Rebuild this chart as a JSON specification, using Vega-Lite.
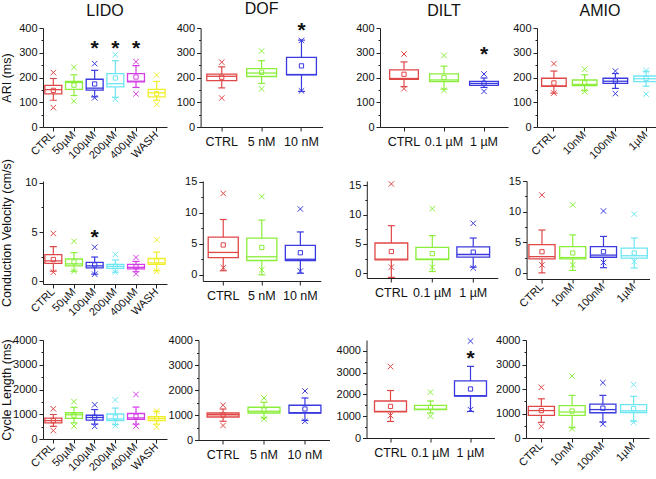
{
"$schema":"https://vega.github.io/schema/vega-lite/v6.json",
"padding":{"left":0,"top":1,"right":0,"bottom":0},
"background":"white",
"config":{
 "view":{"stroke":null},
 "font":"Liberation Sans",
 "axis":{"domainColor":"#222","tickColor":"#222","labelColor":"#111","titleColor":"#111","labelFont":"Liberation Sans","titleFont":"Liberation Sans","titleFontWeight":"normal","titleFontSize":12.5,"grid":false,"domainWidth":1,"tickWidth":1,"labelOverlap":false},
 "title":{"font":"Liberation Sans","fontSize":16,"fontWeight":"normal","color":"#111","anchor":"middle","offset":3}
},
"datasets":{"d":[
{"d":"LIDO","m":"ARI","cond":"CTRL","lo":108,"q1":134,"med":151,"q3":168,"hi":196,"mean":148,"mn":78,"mx":220,"star":null},
{"d":"LIDO","m":"ARI","cond":"50µM","lo":127,"q1":152,"med":180,"q3":184,"hi":211,"mean":169,"mn":104,"mx":241,"star":null},
{"d":"LIDO","m":"ARI","cond":"100µM","lo":122,"q1":149,"med":157,"q3":193,"hi":229,"mean":174,"mn":118,"mx":256,"star":334},
{"d":"LIDO","m":"ARI","cond":"200µM","lo":120,"q1":162,"med":175,"q3":216,"hi":268,"mean":198,"mn":112,"mx":292,"star":334},
{"d":"LIDO","m":"ARI","cond":"400µM","lo":160,"q1":182,"med":185,"q3":216,"hi":248,"mean":202,"mn":134,"mx":264,"star":334},
{"d":"LIDO","m":"ARI","cond":"WASH","lo":108,"q1":122,"med":138,"q3":152,"hi":184,"mean":135,"mn":92,"mx":210,"star":null},
{"d":"DOF","m":"ARI","cond":"CTRL","lo":158,"q1":187,"med":205,"q3":214,"hi":243,"mean":201,"mn":117,"mx":262,"star":null},
{"d":"DOF","m":"ARI","cond":"5 nM","lo":176,"q1":204,"med":218,"q3":236,"hi":268,"mean":221,"mn":154,"mx":307,"star":null},
{"d":"DOF","m":"ARI","cond":"10 nM","lo":144,"q1":211,"med":212,"q3":281,"hi":351,"mean":247,"mn":146,"mx":350,"star":408},
{"d":"DILT","m":"ARI","cond":"CTRL","lo":163,"q1":193,"med":196,"q3":231,"hi":263,"mean":213,"mn":155,"mx":295,"star":null},
{"d":"DILT","m":"ARI","cond":"0.1 µM","lo":153,"q1":183,"med":190,"q3":215,"hi":246,"mean":200,"mn":148,"mx":289,"star":null},
{"d":"DILT","m":"ARI","cond":"1 µM","lo":160,"q1":168,"med":176,"q3":184,"hi":198,"mean":177,"mn":144,"mx":214,"star":310},
{"d":"AMIO","m":"ARI","cond":"CTRL","lo":137,"q1":164,"med":166,"q3":197,"hi":226,"mean":178,"mn":137,"mx":256,"star":null},
{"d":"AMIO","m":"ARI","cond":"10nM","lo":147,"q1":167,"med":172,"q3":190,"hi":211,"mean":178,"mn":143,"mx":233,"star":null},
{"d":"AMIO","m":"ARI","cond":"100nM","lo":156,"q1":176,"med":185,"q3":197,"hi":216,"mean":186,"mn":135,"mx":226,"star":null},
{"d":"AMIO","m":"ARI","cond":"1µM","lo":165,"q1":183,"med":195,"q3":206,"hi":225,"mean":196,"mn":133,"mx":228,"star":null},
{"d":"LIDO","m":"CV","cond":"CTRL","lo":1.0,"q1":1.8,"med":2.05,"q3":2.7,"hi":3.5,"mean":2.2,"mn":0.9,"mx":4.85,"star":null},
{"d":"LIDO","m":"CV","cond":"50µM","lo":1.0,"q1":1.55,"med":1.75,"q3":2.25,"hi":2.9,"mean":1.95,"mn":1.0,"mx":4.05,"star":null},
{"d":"LIDO","m":"CV","cond":"100µM","lo":0.7,"q1":1.35,"med":1.55,"q3":1.9,"hi":2.45,"mean":1.65,"mn":0.7,"mx":3.45,"star":4.9},
{"d":"LIDO","m":"CV","cond":"200µM","lo":0.9,"q1":1.3,"med":1.5,"q3":1.7,"hi":2.15,"mean":1.5,"mn":0.9,"mx":2.7,"star":null},
{"d":"LIDO","m":"CV","cond":"400µM","lo":0.95,"q1":1.25,"med":1.4,"q3":1.7,"hi":2.0,"mean":1.45,"mn":0.75,"mx":2.4,"star":null},
{"d":"LIDO","m":"CV","cond":"WASH","lo":1.05,"q1":1.7,"med":1.85,"q3":2.3,"hi":2.95,"mean":2.05,"mn":1.0,"mx":4.2,"star":null},
{"d":"DOF","m":"CV","cond":"CTRL","lo":0.65,"q1":2.75,"med":3.6,"q3":6.05,"hi":8.9,"mean":4.8,"mn":1.15,"mx":13.1,"star":null},
{"d":"DOF","m":"CV","cond":"5 nM","lo":0,"q1":2.3,"med":2.9,"q3":5.9,"hi":8.8,"mean":4.4,"mn":0.8,"mx":12.6,"star":null},
{"d":"DOF","m":"CV","cond":"10 nM","lo":0.25,"q1":2.3,"med":2.5,"q3":4.75,"hi":6.9,"mean":3.55,"mn":0.6,"mx":10.6,"star":null},
{"d":"DILT","m":"CV","cond":"CTRL","lo":-0.7,"q1":2.3,"med":2.4,"q3":5.15,"hi":8.1,"mean":3.7,"mn":1.05,"mx":15.2,"star":null},
{"d":"DILT","m":"CV","cond":"0.1 µM","lo":0.3,"q1":2.35,"med":2.4,"q3":4.4,"hi":6.4,"mean":3.35,"mn":1.05,"mx":11.0,"star":null},
{"d":"DILT","m":"CV","cond":"1 µM","lo":1.05,"q1":2.75,"med":3.2,"q3":4.5,"hi":6.0,"mean":3.6,"mn":0.9,"mx":8.5,"star":null},
{"d":"AMIO","m":"CV","cond":"CTRL","lo":0,"q1":2.3,"med":2.65,"q3":4.6,"hi":7.0,"mean":3.45,"mn":1.3,"mx":12.7,"star":null},
{"d":"AMIO","m":"CV","cond":"10nM","lo":0.4,"q1":2.3,"med":2.5,"q3":4.3,"hi":6.2,"mean":3.25,"mn":1.3,"mx":11.1,"star":null},
{"d":"AMIO","m":"CV","cond":"100nM","lo":0.85,"q1":2.55,"med":2.9,"q3":4.3,"hi":5.95,"mean":3.45,"mn":1.7,"mx":10.1,"star":null},
{"d":"AMIO","m":"CV","cond":"1µM","lo":0.8,"q1":2.4,"med":2.8,"q3":4.05,"hi":5.7,"mean":3.25,"mn":1.85,"mx":9.6,"star":null},
{"d":"LIDO","m":"CL","cond":"CTRL","lo":510,"q1":650,"med":740,"q3":840,"hi":990,"mean":740,"mn":340,"mx":1220,"star":null},
{"d":"LIDO","m":"CL","cond":"50µM","lo":650,"q1":830,"med":980,"q3":1060,"hi":1280,"mean":960,"mn":520,"mx":1510,"star":null},
{"d":"LIDO","m":"CL","cond":"100µM","lo":600,"q1":760,"med":870,"q3":960,"hi":1190,"mean":880,"mn":510,"mx":1380,"star":null},
{"d":"LIDO","m":"CL","cond":"200µM","lo":580,"q1":740,"med":810,"q3":1010,"hi":1250,"mean":880,"mn":540,"mx":1580,"star":null},
{"d":"LIDO","m":"CL","cond":"400µM","lo":600,"q1":790,"med":850,"q3":1030,"hi":1290,"mean":920,"mn":520,"mx":1800,"star":null},
{"d":"LIDO","m":"CL","cond":"WASH","lo":600,"q1":740,"med":820,"q3":900,"hi":1120,"mean":820,"mn":480,"mx":1130,"star":null},
{"d":"DOF","m":"CL","cond":"CTRL","lo":750,"q1":920,"med":1010,"q3":1080,"hi":1240,"mean":1000,"mn":580,"mx":1390,"star":null},
{"d":"DOF","m":"CL","cond":"5 nM","lo":880,"q1":1080,"med":1150,"q3":1310,"hi":1510,"mean":1200,"mn":840,"mx":1680,"star":null},
{"d":"DOF","m":"CL","cond":"10 nM","lo":780,"q1":1080,"med":1090,"q3":1390,"hi":1680,"mean":1240,"mn":750,"mx":1960,"star":null},
{"d":"DILT","m":"CL","cond":"CTRL","lo":760,"q1":1200,"med":1220,"q3":1700,"hi":2180,"mean":1450,"mn":1030,"mx":3280,"star":null},
{"d":"DILT","m":"CL","cond":"0.1 µM","lo":1150,"q1":1300,"med":1330,"q3":1500,"hi":1700,"mean":1400,"mn":1000,"mx":2100,"star":null},
{"d":"DILT","m":"CL","cond":"1 µM","lo":1220,"q1":1920,"med":1940,"q3":2620,"hi":3290,"mean":2250,"mn":1300,"mx":4450,"star":3850},
{"d":"AMIO","m":"CL","cond":"CTRL","lo":640,"q1":920,"med":1120,"q3":1290,"hi":1600,"mean":1120,"mn":480,"mx":2070,"star":null},
{"d":"AMIO","m":"CL","cond":"10nM","lo":420,"q1":920,"med":1060,"q3":1320,"hi":1740,"mean":1100,"mn":380,"mx":2530,"star":null},
{"d":"AMIO","m":"CL","cond":"100nM","lo":650,"q1":1030,"med":1160,"q3":1380,"hi":1740,"mean":1220,"mn":570,"mx":2260,"star":null},
{"d":"AMIO","m":"CL","cond":"1µM","lo":680,"q1":1040,"med":1110,"q3":1360,"hi":1700,"mean":1200,"mn":640,"mx":2180,"star":null}
]},
"data":{"name":"d"},
"spacing":-3,
"vconcat":[
{"spacing":32,"hconcat":[
 {"spacing":8.6,"hconcat":[
  {"width":124,"height":99,"title":"LIDO",
   "transform":[{"filter":"datum.d==='LIDO' && datum.m==='ARI'"},{"fold":["lo","hi","q1","med","mean","mn","mx","star"],"as":["k","v"]}],
   "encoding":{
    "x":{"field":"cond","type":"nominal","title":null,"scale":{"domain":["CTRL","50µM","100µM","200µM","400µM","WASH"],"paddingInner":0,"paddingOuter":0},"axis":{"labelAngle":-45,"labelAlign":"right","labelBaseline":"middle","labelFontSize":11,"labelPadding":2,"tickSize":4}},
    "y":{"field":"v","type":"quantitative","title":"ARI (ms)","scale":{"domain":[0,400],"nice":false,"zero":false},"axis":{"values":[0,50,100,150,200,250,300,350,400],"labelExpr":"datum.value % 100 === 0 ? datum.label : ''","tickSize":{"condition":{"test":"datum.value % 100 === 0","value":4},"value":2},"labelFontSize":11,"labelPadding":2,"titlePadding":5}},
    "color":{"field":"cond","type":"nominal","legend":null,"scale":{"domain":["CTRL","50µM","100µM","200µM","400µM","WASH","5 nM","10 nM","0.1 µM","1 µM","10nM","100nM","1µM"],"range":["#e04848","#8aee3a","#3a3ae0","#6ee6f2","#d63ce6","#f0ee2a","#8aee3a","#3a3ae0","#8aee3a","#3a3ae0","#8aee3a","#3a3ae0","#6ee6f2"]}}
   },
   "layer":[
    {"transform":[{"filter":"datum.k==='lo'"}],"mark":{"type":"rule","strokeWidth":1.2},"encoding":{"y2":{"field":"q1"}}},
    {"transform":[{"filter":"datum.k==='hi'"}],"mark":{"type":"rule","strokeWidth":1.2},"encoding":{"y2":{"field":"q3"}}},
    {"transform":[{"filter":"datum.k==='q1'"}],"mark":{"type":"bar","filled":false,"strokeWidth":1.3,"width":{"band":0.82}},"encoding":{"y2":{"field":"q3"}}},
    {"transform":[{"filter":"datum.k==='med'"}],"mark":{"type":"tick","size":17,"thickness":1.3,"opacity":1}},
    {"transform":[{"filter":"datum.k==='lo' || datum.k==='hi'"}],"mark":{"type":"tick","size":7,"thickness":1.2,"opacity":1}},
    {"transform":[{"filter":"datum.k==='mean'"}],"mark":{"type":"point","shape":"square","size":18,"filled":false,"strokeWidth":1,"opacity":1}},
    {"transform":[{"filter":"(datum.k==='mn' || datum.k==='mx') && datum.v != null"}],"mark":{"type":"point","shape":"M-1,-1L1,1M-1,1L1,-1","size":30,"filled":false,"strokeWidth":1,"opacity":1}},
    {"transform":[{"filter":"datum.k==='star' && datum.v != null"}],"mark":{"type":"text","text":"*","fontSize":21,"fontWeight":"bold","baseline":"middle","dy":5},"encoding":{"color":{"value":"#111"}}}
   ]},
  {"width":122,"height":99,"title":"DOF",
   "transform":[{"filter":"datum.d==='DOF' && datum.m==='ARI'"},{"fold":["lo","hi","q1","med","mean","mn","mx","star"],"as":["k","v"]}],
   "encoding":{
    "x":{"field":"cond","type":"nominal","title":null,"scale":{"domain":["CTRL","5 nM","10 nM"],"paddingInner":0,"paddingOuter":0.03},"axis":{"labelAngle":0,"labelFontSize":12.5,"labelPadding":4,"tickSize":4}},
    "y":{"field":"v","type":"quantitative","title":null,"scale":{"domain":[0,400],"nice":false,"zero":false},"axis":{"values":[0,50,100,150,200,250,300,350,400],"labelExpr":"datum.value % 100 === 0 ? datum.label : ''","tickSize":{"condition":{"test":"datum.value % 100 === 0","value":4},"value":2},"labelFontSize":11,"labelPadding":2}},
    "color":{"field":"cond","type":"nominal","legend":null,"scale":{"domain":["CTRL","50µM","100µM","200µM","400µM","WASH","5 nM","10 nM","0.1 µM","1 µM","10nM","100nM","1µM"],"range":["#e04848","#8aee3a","#3a3ae0","#6ee6f2","#d63ce6","#f0ee2a","#8aee3a","#3a3ae0","#8aee3a","#3a3ae0","#8aee3a","#3a3ae0","#6ee6f2"]}}
   },
   "layer":[
    {"transform":[{"filter":"datum.k==='lo'"}],"mark":{"type":"rule","strokeWidth":1.2},"encoding":{"y2":{"field":"q1"}}},
    {"transform":[{"filter":"datum.k==='hi'"}],"mark":{"type":"rule","strokeWidth":1.2},"encoding":{"y2":{"field":"q3"}}},
    {"transform":[{"filter":"datum.k==='q1'"}],"mark":{"type":"bar","filled":false,"strokeWidth":1.3,"width":{"band":0.75}},"encoding":{"y2":{"field":"q3"}}},
    {"transform":[{"filter":"datum.k==='med'"}],"mark":{"type":"tick","size":30,"thickness":1.3,"opacity":1}},
    {"transform":[{"filter":"datum.k==='lo' || datum.k==='hi'"}],"mark":{"type":"tick","size":7,"thickness":1.2,"opacity":1}},
    {"transform":[{"filter":"datum.k==='mean'"}],"mark":{"type":"point","shape":"square","size":18,"filled":false,"strokeWidth":1,"opacity":1}},
    {"transform":[{"filter":"(datum.k==='mn' || datum.k==='mx') && datum.v != null"}],"mark":{"type":"point","shape":"M-1,-1L1,1M-1,1L1,-1","size":30,"filled":false,"strokeWidth":1,"opacity":1}},
    {"transform":[{"filter":"datum.k==='star' && datum.v != null"}],"mark":{"type":"text","text":"*","fontSize":21,"fontWeight":"bold","baseline":"middle","dy":5},"encoding":{"color":{"value":"#111"}}}
   ]}
 ]},
 {"spacing":4,"hconcat":[
  {"width":128,"height":99,"title":"DILT",
   "transform":[{"filter":"datum.d==='DILT' && datum.m==='ARI'"},{"fold":["lo","hi","q1","med","mean","mn","mx","star"],"as":["k","v"]}],
   "encoding":{
    "x":{"field":"cond","type":"nominal","title":null,"scale":{"domain":["CTRL","0.1 µM","1 µM"],"paddingInner":0,"paddingOuter":0.1},"axis":{"labelAngle":0,"labelFontSize":12.5,"labelPadding":4,"tickSize":4}},
    "y":{"field":"v","type":"quantitative","title":null,"scale":{"domain":[0,400],"nice":false,"zero":false},"axis":{"values":[0,50,100,150,200,250,300,350,400],"labelExpr":"datum.value % 100 === 0 ? datum.label : ''","tickSize":{"condition":{"test":"datum.value % 100 === 0","value":4},"value":2},"labelFontSize":11,"labelPadding":2}},
    "color":{"field":"cond","type":"nominal","legend":null,"scale":{"domain":["CTRL","50µM","100µM","200µM","400µM","WASH","5 nM","10 nM","0.1 µM","1 µM","10nM","100nM","1µM"],"range":["#e04848","#8aee3a","#3a3ae0","#6ee6f2","#d63ce6","#f0ee2a","#8aee3a","#3a3ae0","#8aee3a","#3a3ae0","#8aee3a","#3a3ae0","#6ee6f2"]}}
   },
   "layer":[
    {"transform":[{"filter":"datum.k==='lo'"}],"mark":{"type":"rule","strokeWidth":1.2},"encoding":{"y2":{"field":"q1"}}},
    {"transform":[{"filter":"datum.k==='hi'"}],"mark":{"type":"rule","strokeWidth":1.2},"encoding":{"y2":{"field":"q3"}}},
    {"transform":[{"filter":"datum.k==='q1'"}],"mark":{"type":"bar","filled":false,"strokeWidth":1.3,"width":{"band":0.72}},"encoding":{"y2":{"field":"q3"}}},
    {"transform":[{"filter":"datum.k==='med'"}],"mark":{"type":"tick","size":29.5,"thickness":1.3,"opacity":1}},
    {"transform":[{"filter":"datum.k==='lo' || datum.k==='hi'"}],"mark":{"type":"tick","size":7,"thickness":1.2,"opacity":1}},
    {"transform":[{"filter":"datum.k==='mean'"}],"mark":{"type":"point","shape":"square","size":18,"filled":false,"strokeWidth":1,"opacity":1}},
    {"transform":[{"filter":"(datum.k==='mn' || datum.k==='mx') && datum.v != null"}],"mark":{"type":"point","shape":"M-1,-1L1,1M-1,1L1,-1","size":30,"filled":false,"strokeWidth":1,"opacity":1}},
    {"transform":[{"filter":"datum.k==='star' && datum.v != null"}],"mark":{"type":"text","text":"*","fontSize":21,"fontWeight":"bold","baseline":"middle","dy":5},"encoding":{"color":{"value":"#111"}}}
   ]},
  {"width":126,"height":99,"title":"AMIO",
   "transform":[{"filter":"datum.d==='AMIO' && datum.m==='ARI'"},{"fold":["lo","hi","q1","med","mean","mn","mx","star"],"as":["k","v"]}],
   "encoding":{
    "x":{"field":"cond","type":"nominal","title":null,"scale":{"domain":["CTRL","10nM","100nM","1µM"],"paddingInner":0,"paddingOuter":0.05},"axis":{"labelAngle":-45,"labelAlign":"right","labelBaseline":"middle","labelFontSize":11,"labelPadding":2,"tickSize":4}},
    "y":{"field":"v","type":"quantitative","title":null,"scale":{"domain":[0,400],"nice":false,"zero":false},"axis":{"values":[0,50,100,150,200,250,300,350,400],"labelExpr":"datum.value % 100 === 0 ? datum.label : ''","tickSize":{"condition":{"test":"datum.value % 100 === 0","value":4},"value":2},"labelFontSize":11,"labelPadding":2}},
    "color":{"field":"cond","type":"nominal","legend":null,"scale":{"domain":["CTRL","50µM","100µM","200µM","400µM","WASH","5 nM","10 nM","0.1 µM","1 µM","10nM","100nM","1µM"],"range":["#e04848","#8aee3a","#3a3ae0","#6ee6f2","#d63ce6","#f0ee2a","#8aee3a","#3a3ae0","#8aee3a","#3a3ae0","#8aee3a","#3a3ae0","#6ee6f2"]}}
   },
   "layer":[
    {"transform":[{"filter":"datum.k==='lo'"}],"mark":{"type":"rule","strokeWidth":1.2},"encoding":{"y2":{"field":"q1"}}},
    {"transform":[{"filter":"datum.k==='hi'"}],"mark":{"type":"rule","strokeWidth":1.2},"encoding":{"y2":{"field":"q3"}}},
    {"transform":[{"filter":"datum.k==='q1'"}],"mark":{"type":"bar","filled":false,"strokeWidth":1.3,"width":{"band":0.8}},"encoding":{"y2":{"field":"q3"}}},
    {"transform":[{"filter":"datum.k==='med'"}],"mark":{"type":"tick","size":24.6,"thickness":1.3,"opacity":1}},
    {"transform":[{"filter":"datum.k==='lo' || datum.k==='hi'"}],"mark":{"type":"tick","size":7,"thickness":1.2,"opacity":1}},
    {"transform":[{"filter":"datum.k==='mean'"}],"mark":{"type":"point","shape":"square","size":18,"filled":false,"strokeWidth":1,"opacity":1}},
    {"transform":[{"filter":"(datum.k==='mn' || datum.k==='mx') && datum.v != null"}],"mark":{"type":"point","shape":"M-1,-1L1,1M-1,1L1,-1","size":30,"filled":false,"strokeWidth":1,"opacity":1}},
    {"transform":[{"filter":"datum.k==='star' && datum.v != null"}],"mark":{"type":"text","text":"*","fontSize":21,"fontWeight":"bold","baseline":"middle","dy":5},"encoding":{"color":{"value":"#111"}}}
   ]}
 ]}
]},
{"spacing":16,"vconcat":[
{"spacing":26.8,"hconcat":[
 {"spacing":16.8,"hconcat":[
  {"width":124,"height":103,
   "transform":[{"filter":"datum.d==='LIDO' && datum.m==='CV'"},{"fold":["lo","hi","q1","med","mean","mn","mx","star"],"as":["k","v"]}],
   "encoding":{
    "x":{"field":"cond","type":"nominal","title":null,"scale":{"domain":["CTRL","50µM","100µM","200µM","400µM","WASH"],"paddingInner":0,"paddingOuter":0},"axis":{"labelAngle":-45,"labelAlign":"right","labelBaseline":"middle","labelFontSize":11,"labelPadding":2,"tickSize":4}},
    "y":{"field":"v","type":"quantitative","title":"Conduction Velocity (cm/s)","scale":{"domain":[-0.3,10.2],"nice":false,"zero":false},"axis":{"values":[0,2.5,5,7.5,10],"labelExpr":"datum.value % 5 === 0 ? datum.label : ''","tickSize":{"condition":{"test":"datum.value % 5 === 0","value":4},"value":2},"labelFontSize":11,"labelPadding":2,"titlePadding":11}},
    "color":{"field":"cond","type":"nominal","legend":null,"scale":{"domain":["CTRL","50µM","100µM","200µM","400µM","WASH","5 nM","10 nM","0.1 µM","1 µM","10nM","100nM","1µM"],"range":["#e04848","#8aee3a","#3a3ae0","#6ee6f2","#d63ce6","#f0ee2a","#8aee3a","#3a3ae0","#8aee3a","#3a3ae0","#8aee3a","#3a3ae0","#6ee6f2"]}}
   },
   "layer":[
    {"transform":[{"filter":"datum.k==='lo'"}],"mark":{"type":"rule","strokeWidth":1.2},"encoding":{"y2":{"field":"q1"}}},
    {"transform":[{"filter":"datum.k==='hi'"}],"mark":{"type":"rule","strokeWidth":1.2},"encoding":{"y2":{"field":"q3"}}},
    {"transform":[{"filter":"datum.k==='q1'"}],"mark":{"type":"bar","filled":false,"strokeWidth":1.3,"width":{"band":0.82}},"encoding":{"y2":{"field":"q3"}}},
    {"transform":[{"filter":"datum.k==='med'"}],"mark":{"type":"tick","size":17,"thickness":1.3,"opacity":1}},
    {"transform":[{"filter":"datum.k==='lo' || datum.k==='hi'"}],"mark":{"type":"tick","size":7,"thickness":1.2,"opacity":1}},
    {"transform":[{"filter":"datum.k==='mean'"}],"mark":{"type":"point","shape":"square","size":18,"filled":false,"strokeWidth":1,"opacity":1}},
    {"transform":[{"filter":"(datum.k==='mn' || datum.k==='mx') && datum.v != null"}],"mark":{"type":"point","shape":"M-1,-1L1,1M-1,1L1,-1","size":30,"filled":false,"strokeWidth":1,"opacity":1}},
    {"transform":[{"filter":"datum.k==='star' && datum.v != null"}],"mark":{"type":"text","text":"*","fontSize":21,"fontWeight":"bold","baseline":"middle","dy":5},"encoding":{"color":{"value":"#111"}}}
   ]},
  {"width":118,"height":100,
   "transform":[{"filter":"datum.d==='DOF' && datum.m==='CV'"},{"fold":["lo","hi","q1","med","mean","mn","mx","star"],"as":["k","v"]}],
   "encoding":{
    "x":{"field":"cond","type":"nominal","title":null,"scale":{"domain":["CTRL","5 nM","10 nM"],"paddingInner":0,"paddingOuter":0.03},"axis":{"labelAngle":0,"labelFontSize":12.5,"labelPadding":4,"tickSize":4}},
    "y":{"field":"v","type":"quantitative","title":null,"scale":{"domain":[-1,15.1],"nice":false,"zero":false},"axis":{"values":[0,2.5,5,7.5,10,12.5,15],"labelExpr":"datum.value % 5 === 0 ? datum.label : ''","tickSize":{"condition":{"test":"datum.value % 5 === 0","value":4},"value":2},"labelFontSize":11,"labelPadding":2}},
    "color":{"field":"cond","type":"nominal","legend":null,"scale":{"domain":["CTRL","50µM","100µM","200µM","400µM","WASH","5 nM","10 nM","0.1 µM","1 µM","10nM","100nM","1µM"],"range":["#e04848","#8aee3a","#3a3ae0","#6ee6f2","#d63ce6","#f0ee2a","#8aee3a","#3a3ae0","#8aee3a","#3a3ae0","#8aee3a","#3a3ae0","#6ee6f2"]}}
   },
   "layer":[
    {"transform":[{"filter":"datum.k==='lo'"}],"mark":{"type":"rule","strokeWidth":1.2},"encoding":{"y2":{"field":"q1"}}},
    {"transform":[{"filter":"datum.k==='hi'"}],"mark":{"type":"rule","strokeWidth":1.2},"encoding":{"y2":{"field":"q3"}}},
    {"transform":[{"filter":"datum.k==='q1'"}],"mark":{"type":"bar","filled":false,"strokeWidth":1.3,"width":{"band":0.78}},"encoding":{"y2":{"field":"q3"}}},
    {"transform":[{"filter":"datum.k==='med'"}],"mark":{"type":"tick","size":30,"thickness":1.3,"opacity":1}},
    {"transform":[{"filter":"datum.k==='lo' || datum.k==='hi'"}],"mark":{"type":"tick","size":7,"thickness":1.2,"opacity":1}},
    {"transform":[{"filter":"datum.k==='mean'"}],"mark":{"type":"point","shape":"square","size":18,"filled":false,"strokeWidth":1,"opacity":1}},
    {"transform":[{"filter":"(datum.k==='mn' || datum.k==='mx') && datum.v != null"}],"mark":{"type":"point","shape":"M-1,-1L1,1M-1,1L1,-1","size":30,"filled":false,"strokeWidth":1,"opacity":1}},
    {"transform":[{"filter":"datum.k==='star' && datum.v != null"}],"mark":{"type":"text","text":"*","fontSize":21,"fontWeight":"bold","baseline":"middle","dy":5},"encoding":{"color":{"value":"#111"}}}
   ]}
 ]},
 {"spacing":9.8,"hconcat":[
  {"width":131,"height":97,
   "transform":[{"filter":"datum.d==='DILT' && datum.m==='CV'"},{"fold":["lo","hi","q1","med","mean","mn","mx","star"],"as":["k","v"]}],
   "encoding":{
    "x":{"field":"cond","type":"nominal","title":null,"scale":{"domain":["CTRL","0.1 µM","1 µM"],"paddingInner":0,"paddingOuter":0.1},"axis":{"labelAngle":0,"labelFontSize":12.5,"labelPadding":4,"tickSize":4}},
    "y":{"field":"v","type":"quantitative","title":null,"scale":{"domain":[-0.8,15.7],"nice":false,"zero":false},"axis":{"values":[0,2.5,5,7.5,10,12.5,15],"labelExpr":"datum.value % 5 === 0 ? datum.label : ''","tickSize":{"condition":{"test":"datum.value % 5 === 0","value":4},"value":2},"labelFontSize":11,"labelPadding":2}},
    "color":{"field":"cond","type":"nominal","legend":null,"scale":{"domain":["CTRL","50µM","100µM","200µM","400µM","WASH","5 nM","10 nM","0.1 µM","1 µM","10nM","100nM","1µM"],"range":["#e04848","#8aee3a","#3a3ae0","#6ee6f2","#d63ce6","#f0ee2a","#8aee3a","#3a3ae0","#8aee3a","#3a3ae0","#8aee3a","#3a3ae0","#6ee6f2"]}}
   },
   "layer":[
    {"transform":[{"filter":"datum.k==='lo'"}],"mark":{"type":"rule","strokeWidth":1.2},"encoding":{"y2":{"field":"q1"}}},
    {"transform":[{"filter":"datum.k==='hi'"}],"mark":{"type":"rule","strokeWidth":1.2},"encoding":{"y2":{"field":"q3"}}},
    {"transform":[{"filter":"datum.k==='q1'"}],"mark":{"type":"bar","filled":false,"strokeWidth":1.3,"width":{"band":0.8}},"encoding":{"y2":{"field":"q3"}}},
    {"transform":[{"filter":"datum.k==='med'"}],"mark":{"type":"tick","size":32.7,"thickness":1.3,"opacity":1}},
    {"transform":[{"filter":"datum.k==='lo' || datum.k==='hi'"}],"mark":{"type":"tick","size":7,"thickness":1.2,"opacity":1}},
    {"transform":[{"filter":"datum.k==='mean'"}],"mark":{"type":"point","shape":"square","size":18,"filled":false,"strokeWidth":1,"opacity":1}},
    {"transform":[{"filter":"(datum.k==='mn' || datum.k==='mx') && datum.v != null"}],"mark":{"type":"point","shape":"M-1,-1L1,1M-1,1L1,-1","size":30,"filled":false,"strokeWidth":1,"opacity":1}},
    {"transform":[{"filter":"datum.k==='star' && datum.v != null"}],"mark":{"type":"text","text":"*","fontSize":21,"fontWeight":"bold","baseline":"middle","dy":5},"encoding":{"color":{"value":"#111"}}}
   ]},
  {"width":123,"height":98,
   "transform":[{"filter":"datum.d==='AMIO' && datum.m==='CV'"},{"fold":["lo","hi","q1","med","mean","mn","mx","star"],"as":["k","v"]}],
   "encoding":{
    "x":{"field":"cond","type":"nominal","title":null,"scale":{"domain":["CTRL","10nM","100nM","1µM"],"paddingInner":0,"paddingOuter":0},"axis":{"labelAngle":-45,"labelAlign":"right","labelBaseline":"middle","labelFontSize":11,"labelPadding":2,"tickSize":4}},
    "y":{"field":"v","type":"quantitative","title":null,"scale":{"domain":[-1,15],"nice":false,"zero":false},"axis":{"values":[0,2.5,5,7.5,10,12.5,15],"labelExpr":"datum.value % 5 === 0 ? datum.label : ''","tickSize":{"condition":{"test":"datum.value % 5 === 0","value":4},"value":2},"labelFontSize":11,"labelPadding":2}},
    "color":{"field":"cond","type":"nominal","legend":null,"scale":{"domain":["CTRL","50µM","100µM","200µM","400µM","WASH","5 nM","10 nM","0.1 µM","1 µM","10nM","100nM","1µM"],"range":["#e04848","#8aee3a","#3a3ae0","#6ee6f2","#d63ce6","#f0ee2a","#8aee3a","#3a3ae0","#8aee3a","#3a3ae0","#8aee3a","#3a3ae0","#6ee6f2"]}}
   },
   "layer":[
    {"transform":[{"filter":"datum.k==='lo'"}],"mark":{"type":"rule","strokeWidth":1.2},"encoding":{"y2":{"field":"q1"}}},
    {"transform":[{"filter":"datum.k==='hi'"}],"mark":{"type":"rule","strokeWidth":1.2},"encoding":{"y2":{"field":"q3"}}},
    {"transform":[{"filter":"datum.k==='q1'"}],"mark":{"type":"bar","filled":false,"strokeWidth":1.3,"width":{"band":0.85}},"encoding":{"y2":{"field":"q3"}}},
    {"transform":[{"filter":"datum.k==='med'"}],"mark":{"type":"tick","size":26,"thickness":1.3,"opacity":1}},
    {"transform":[{"filter":"datum.k==='lo' || datum.k==='hi'"}],"mark":{"type":"tick","size":7,"thickness":1.2,"opacity":1}},
    {"transform":[{"filter":"datum.k==='mean'"}],"mark":{"type":"point","shape":"square","size":18,"filled":false,"strokeWidth":1,"opacity":1}},
    {"transform":[{"filter":"(datum.k==='mn' || datum.k==='mx') && datum.v != null"}],"mark":{"type":"point","shape":"M-1,-1L1,1M-1,1L1,-1","size":30,"filled":false,"strokeWidth":1,"opacity":1}},
    {"transform":[{"filter":"datum.k==='star' && datum.v != null"}],"mark":{"type":"text","text":"*","fontSize":21,"fontWeight":"bold","baseline":"middle","dy":5},"encoding":{"color":{"value":"#111"}}}
   ]}
 ]}
]},
{"spacing":5.5,"hconcat":[
 {"spacing":0.5,"hconcat":[
  {"width":124,"height":99,
   "transform":[{"filter":"datum.d==='LIDO' && datum.m==='CL'"},{"fold":["lo","hi","q1","med","mean","mn","mx","star"],"as":["k","v"]}],
   "encoding":{
    "x":{"field":"cond","type":"nominal","title":null,"scale":{"domain":["CTRL","50µM","100µM","200µM","400µM","WASH"],"paddingInner":0,"paddingOuter":0},"axis":{"labelAngle":-45,"labelAlign":"right","labelBaseline":"middle","labelFontSize":11,"labelPadding":2,"tickSize":4}},
    "y":{"field":"v","type":"quantitative","title":"Cycle Length (ms)","scale":{"domain":[0,4000],"nice":false,"zero":false},"axis":{"values":[0,500,1000,1500,2000,2500,3000,3500,4000],"format":"d","labelExpr":"datum.value % 1000 === 0 ? datum.label : ''","tickSize":{"condition":{"test":"datum.value % 1000 === 0","value":4},"value":2},"labelFontSize":11,"labelPadding":2,"titlePadding":-1}},
    "color":{"field":"cond","type":"nominal","legend":null,"scale":{"domain":["CTRL","50µM","100µM","200µM","400µM","WASH","5 nM","10 nM","0.1 µM","1 µM","10nM","100nM","1µM"],"range":["#e04848","#8aee3a","#3a3ae0","#6ee6f2","#d63ce6","#f0ee2a","#8aee3a","#3a3ae0","#8aee3a","#3a3ae0","#8aee3a","#3a3ae0","#6ee6f2"]}}
   },
   "layer":[
    {"transform":[{"filter":"datum.k==='lo'"}],"mark":{"type":"rule","strokeWidth":1.2},"encoding":{"y2":{"field":"q1"}}},
    {"transform":[{"filter":"datum.k==='hi'"}],"mark":{"type":"rule","strokeWidth":1.2},"encoding":{"y2":{"field":"q3"}}},
    {"transform":[{"filter":"datum.k==='q1'"}],"mark":{"type":"bar","filled":false,"strokeWidth":1.3,"width":{"band":0.82}},"encoding":{"y2":{"field":"q3"}}},
    {"transform":[{"filter":"datum.k==='med'"}],"mark":{"type":"tick","size":17,"thickness":1.3,"opacity":1}},
    {"transform":[{"filter":"datum.k==='lo' || datum.k==='hi'"}],"mark":{"type":"tick","size":7,"thickness":1.2,"opacity":1}},
    {"transform":[{"filter":"datum.k==='mean'"}],"mark":{"type":"point","shape":"square","size":18,"filled":false,"strokeWidth":1,"opacity":1}},
    {"transform":[{"filter":"(datum.k==='mn' || datum.k==='mx') && datum.v != null"}],"mark":{"type":"point","shape":"M-1,-1L1,1M-1,1L1,-1","size":30,"filled":false,"strokeWidth":1,"opacity":1}},
    {"transform":[{"filter":"datum.k==='star' && datum.v != null"}],"mark":{"type":"text","text":"*","fontSize":21,"fontWeight":"bold","baseline":"middle","dy":5},"encoding":{"color":{"value":"#111"}}}
   ]},
  {"width":131,"height":100,
   "transform":[{"filter":"datum.d==='DOF' && datum.m==='CL'"},{"fold":["lo","hi","q1","med","mean","mn","mx","star"],"as":["k","v"]}],
   "encoding":{
    "x":{"field":"cond","type":"nominal","title":null,"scale":{"domain":["CTRL","5 nM","10 nM"],"paddingInner":0,"paddingOuter":0.1},"axis":{"labelAngle":0,"labelFontSize":12.5,"labelPadding":4,"tickSize":4}},
    "y":{"field":"v","type":"quantitative","title":null,"scale":{"domain":[0,4000],"nice":false,"zero":false},"axis":{"values":[0,500,1000,1500,2000,2500,3000,3500,4000],"format":"d","labelExpr":"datum.value % 1000 === 0 ? datum.label : ''","tickSize":{"condition":{"test":"datum.value % 1000 === 0","value":4},"value":2},"labelFontSize":11,"labelPadding":2}},
    "color":{"field":"cond","type":"nominal","legend":null,"scale":{"domain":["CTRL","50µM","100µM","200µM","400µM","WASH","5 nM","10 nM","0.1 µM","1 µM","10nM","100nM","1µM"],"range":["#e04848","#8aee3a","#3a3ae0","#6ee6f2","#d63ce6","#f0ee2a","#8aee3a","#3a3ae0","#8aee3a","#3a3ae0","#8aee3a","#3a3ae0","#6ee6f2"]}}
   },
   "layer":[
    {"transform":[{"filter":"datum.k==='lo'"}],"mark":{"type":"rule","strokeWidth":1.2},"encoding":{"y2":{"field":"q1"}}},
    {"transform":[{"filter":"datum.k==='hi'"}],"mark":{"type":"rule","strokeWidth":1.2},"encoding":{"y2":{"field":"q3"}}},
    {"transform":[{"filter":"datum.k==='q1'"}],"mark":{"type":"bar","filled":false,"strokeWidth":1.3,"width":{"band":0.78}},"encoding":{"y2":{"field":"q3"}}},
    {"transform":[{"filter":"datum.k==='med'"}],"mark":{"type":"tick","size":32,"thickness":1.3,"opacity":1}},
    {"transform":[{"filter":"datum.k==='lo' || datum.k==='hi'"}],"mark":{"type":"tick","size":7,"thickness":1.2,"opacity":1}},
    {"transform":[{"filter":"datum.k==='mean'"}],"mark":{"type":"point","shape":"square","size":18,"filled":false,"strokeWidth":1,"opacity":1}},
    {"transform":[{"filter":"(datum.k==='mn' || datum.k==='mx') && datum.v != null"}],"mark":{"type":"point","shape":"M-1,-1L1,1M-1,1L1,-1","size":30,"filled":false,"strokeWidth":1,"opacity":1}},
    {"transform":[{"filter":"datum.k==='star' && datum.v != null"}],"mark":{"type":"text","text":"*","fontSize":21,"fontWeight":"bold","baseline":"middle","dy":5},"encoding":{"color":{"value":"#111"}}}
   ]}
 ]},
 {"spacing":0.5,"hconcat":[
  {"width":128,"height":98,
   "transform":[{"filter":"datum.d==='DILT' && datum.m==='CL'"},{"fold":["lo","hi","q1","med","mean","mn","mx","star"],"as":["k","v"]}],
   "encoding":{
    "x":{"field":"cond","type":"nominal","title":null,"scale":{"domain":["CTRL","0.1 µM","1 µM"],"paddingInner":0,"paddingOuter":0.1},"axis":{"labelAngle":0,"labelFontSize":12.5,"labelPadding":4,"tickSize":4}},
    "y":{"field":"v","type":"quantitative","title":null,"scale":{"domain":[0,4500],"nice":false,"zero":false},"axis":{"values":[0,500,1000,1500,2000,2500,3000,3500,4000],"format":"d","labelExpr":"datum.value % 1000 === 0 ? datum.label : ''","tickSize":{"condition":{"test":"datum.value % 1000 === 0","value":4},"value":2},"labelFontSize":11,"labelPadding":2}},
    "color":{"field":"cond","type":"nominal","legend":null,"scale":{"domain":["CTRL","50µM","100µM","200µM","400µM","WASH","5 nM","10 nM","0.1 µM","1 µM","10nM","100nM","1µM"],"range":["#e04848","#8aee3a","#3a3ae0","#6ee6f2","#d63ce6","#f0ee2a","#8aee3a","#3a3ae0","#8aee3a","#3a3ae0","#8aee3a","#3a3ae0","#6ee6f2"]}}
   },
   "layer":[
    {"transform":[{"filter":"datum.k==='lo'"}],"mark":{"type":"rule","strokeWidth":1.2},"encoding":{"y2":{"field":"q1"}}},
    {"transform":[{"filter":"datum.k==='hi'"}],"mark":{"type":"rule","strokeWidth":1.2},"encoding":{"y2":{"field":"q3"}}},
    {"transform":[{"filter":"datum.k==='q1'"}],"mark":{"type":"bar","filled":false,"strokeWidth":1.3,"width":{"band":0.8}},"encoding":{"y2":{"field":"q3"}}},
    {"transform":[{"filter":"datum.k==='med'"}],"mark":{"type":"tick","size":32,"thickness":1.3,"opacity":1}},
    {"transform":[{"filter":"datum.k==='lo' || datum.k==='hi'"}],"mark":{"type":"tick","size":7,"thickness":1.2,"opacity":1}},
    {"transform":[{"filter":"datum.k==='mean'"}],"mark":{"type":"point","shape":"square","size":18,"filled":false,"strokeWidth":1,"opacity":1}},
    {"transform":[{"filter":"(datum.k==='mn' || datum.k==='mx') && datum.v != null"}],"mark":{"type":"point","shape":"M-1,-1L1,1M-1,1L1,-1","size":30,"filled":false,"strokeWidth":1,"opacity":1}},
    {"transform":[{"filter":"datum.k==='star' && datum.v != null"}],"mark":{"type":"text","text":"*","fontSize":21,"fontWeight":"bold","baseline":"middle","dy":5},"encoding":{"color":{"value":"#111"}}}
   ]},
  {"width":123,"height":98,
   "transform":[{"filter":"datum.d==='AMIO' && datum.m==='CL'"},{"fold":["lo","hi","q1","med","mean","mn","mx","star"],"as":["k","v"]}],
   "encoding":{
    "x":{"field":"cond","type":"nominal","title":null,"scale":{"domain":["CTRL","10nM","100nM","1µM"],"paddingInner":0,"paddingOuter":0},"axis":{"labelAngle":-45,"labelAlign":"right","labelBaseline":"middle","labelFontSize":11,"labelPadding":2,"tickSize":4}},
    "y":{"field":"v","type":"quantitative","title":null,"scale":{"domain":[0,4000],"nice":false,"zero":false},"axis":{"values":[0,500,1000,1500,2000,2500,3000,3500,4000],"format":"d","labelExpr":"datum.value % 1000 === 0 ? datum.label : ''","tickSize":{"condition":{"test":"datum.value % 1000 === 0","value":4},"value":2},"labelFontSize":11,"labelPadding":2}},
    "color":{"field":"cond","type":"nominal","legend":null,"scale":{"domain":["CTRL","50µM","100µM","200µM","400µM","WASH","5 nM","10 nM","0.1 µM","1 µM","10nM","100nM","1µM"],"range":["#e04848","#8aee3a","#3a3ae0","#6ee6f2","#d63ce6","#f0ee2a","#8aee3a","#3a3ae0","#8aee3a","#3a3ae0","#8aee3a","#3a3ae0","#6ee6f2"]}}
   },
   "layer":[
    {"transform":[{"filter":"datum.k==='lo'"}],"mark":{"type":"rule","strokeWidth":1.2},"encoding":{"y2":{"field":"q1"}}},
    {"transform":[{"filter":"datum.k==='hi'"}],"mark":{"type":"rule","strokeWidth":1.2},"encoding":{"y2":{"field":"q3"}}},
    {"transform":[{"filter":"datum.k==='q1'"}],"mark":{"type":"bar","filled":false,"strokeWidth":1.3,"width":{"band":0.85}},"encoding":{"y2":{"field":"q3"}}},
    {"transform":[{"filter":"datum.k==='med'"}],"mark":{"type":"tick","size":26,"thickness":1.3,"opacity":1}},
    {"transform":[{"filter":"datum.k==='lo' || datum.k==='hi'"}],"mark":{"type":"tick","size":7,"thickness":1.2,"opacity":1}},
    {"transform":[{"filter":"datum.k==='mean'"}],"mark":{"type":"point","shape":"square","size":18,"filled":false,"strokeWidth":1,"opacity":1}},
    {"transform":[{"filter":"(datum.k==='mn' || datum.k==='mx') && datum.v != null"}],"mark":{"type":"point","shape":"M-1,-1L1,1M-1,1L1,-1","size":30,"filled":false,"strokeWidth":1,"opacity":1}},
    {"transform":[{"filter":"datum.k==='star' && datum.v != null"}],"mark":{"type":"text","text":"*","fontSize":21,"fontWeight":"bold","baseline":"middle","dy":5},"encoding":{"color":{"value":"#111"}}}
   ]}
 ]}
]}
]}
]
}
